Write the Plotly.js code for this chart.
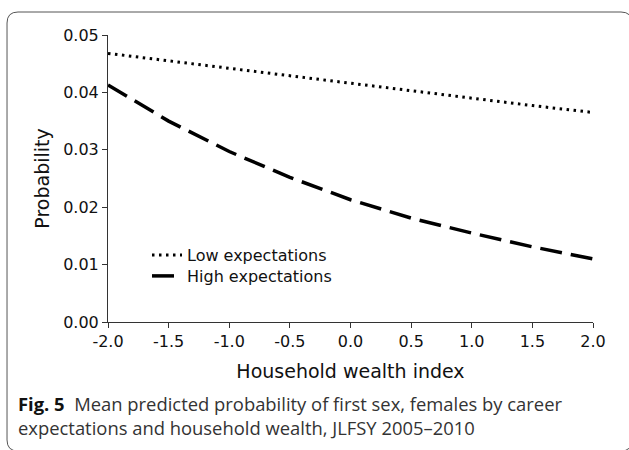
<!DOCTYPE html>
<html>
<head>
<meta charset="utf-8">
<script src="https://cdn.plot.ly/plotly-3.0.1.min.js"></script>
<style>
html,body{margin:0;padding:0;background:#fff;}
#chart{width:629px;height:450px;}
</style>
</head>
<body>
<div id="chart"></div>
<script>
// Data
const wealth = [-2.0, -1.5, -1.0, -0.5, 0.0, 0.5, 1.0, 1.5, 2.0];
const lowExpectations = [0.0468, 0.0455, 0.0441, 0.0428, 0.0416, 0.0403, 0.0390, 0.0377, 0.0365];
const highExpectations = [0.0413, 0.0350, 0.0297, 0.0252, 0.0213, 0.0181, 0.0155, 0.0131, 0.0110];
const xTickVals = [-2.0, -1.5, -1.0, -0.5, 0.0, 0.5, 1.0, 1.5, 2.0];
const xTickText = ["-2.0", "-1.5", "-1.0", "-0.5", "0.0", "0.5", "1.0", "1.5", "2.0"];
const yTickVals = [0.00, 0.01, 0.02, 0.03, 0.04, 0.05];
const yTickText = ["0.00", "0.01", "0.02", "0.03", "0.04", "0.05"];
const seriesNames = ["Low expectations", "High expectations"];

const W = 629, H = 450;
const M = {l: 108, r: 36, t: 35, b: 128};
const pw = W - M.l - M.r, ph = H - M.t - M.b;
function px(x){ return +((x - M.l) / pw).toFixed(4); }
function py(y){ return +((H - M.b - y) / ph).toFixed(4); }

// rounded border
const bx0 = 7, by0 = 12, bx1 = 632, by1 = 451, rr = 11;
const borderPath =
  'M ' + px(bx0) + ',' + py(by0 + rr) +
  ' Q ' + px(bx0) + ',' + py(by0) + ' ' + px(bx0 + rr) + ',' + py(by0) +
  ' L ' + px(bx1 - rr) + ',' + py(by0) +
  ' Q ' + px(bx1) + ',' + py(by0) + ' ' + px(bx1) + ',' + py(by0 + rr) +
  ' L ' + px(bx1) + ',' + py(by1 - rr) +
  ' Q ' + px(bx1) + ',' + py(by1) + ' ' + px(bx1 - rr) + ',' + py(by1) +
  ' L ' + px(bx0 + rr) + ',' + py(by1) +
  ' Q ' + px(bx0) + ',' + py(by1) + ' ' + px(bx0) + ',' + py(by1 - rr) + ' Z';

const traces = [
  {x: wealth, y: lowExpectations, name: seriesNames[0], type: 'scatter', mode: 'lines', legend: 'legend',
   line: {color: '#000', width: 3, dash: '2.5px,4.5px'}},
  {x: wealth, y: highExpectations, name: seriesNames[1], type: 'scatter', mode: 'lines', legend: 'legend2',
   line: {color: '#000', width: 3.5, dash: '22px,9px'}}
];

const fam = 'DejaVu Sans, Verdana, sans-serif';
const axisFont = {family: fam, size: 16, color: '#111'};
const legendBase = {xanchor: 'left', yanchor: 'middle', bgcolor: 'rgba(0,0,0,0)',
                    font: {family: fam, size: 16, color: '#111'}};

const layout = {
  width: W, height: H,
  margin: M,
  paper_bgcolor: '#fff', plot_bgcolor: '#fff',
  showlegend: true,
  legend: Object.assign({x: px(147), y: py(255)}, legendBase),
  legend2: Object.assign({x: px(147), y: py(276)}, legendBase),
  xaxis: {range: [-2, 2], tickvals: xTickVals, ticktext: xTickText,
          showgrid: false, zeroline: false, showline: true, linecolor: '#333', linewidth: 1,
          ticks: 'outside', ticklen: 5, tickcolor: '#333', tickfont: axisFont,
          title: {text: 'Household wealth index', font: {family: fam, size: 19, color: '#111'}, standoff: 14}},
  yaxis: {range: [0, 0.05], tickvals: yTickVals, ticktext: yTickText,
          showgrid: false, zeroline: false, showline: true, linecolor: '#333', linewidth: 1,
          ticks: 'outside', ticklen: 5, tickcolor: '#333', tickfont: axisFont,
          title: {text: 'Probability', font: {family: fam, size: 19, color: '#111'}, standoff: 8}},
  shapes: [{type: 'path', xref: 'paper', yref: 'paper', path: borderPath,
            line: {color: '#555', width: 1}, fillcolor: 'rgba(0,0,0,0)', layer: 'below'}],
  annotations: [{
    xref: 'paper', yref: 'paper', x: px(16), y: py(389), xanchor: 'left', yanchor: 'top',
    align: 'left', showarrow: false,
    font: {family: 'Open Sans, Noto Sans, sans-serif', size: 18.4, color: '#333'},
    text: '<b><span style="color:#111">Fig. 5</span></b>  Mean predicted probability of first sex, females by career<br>expectations and household wealth, JLFSY 2005–2010'
  }]
};

Plotly.newPlot('chart', traces, layout, {displayModeBar: false, staticPlot: true});
</script>
</body>
</html>
